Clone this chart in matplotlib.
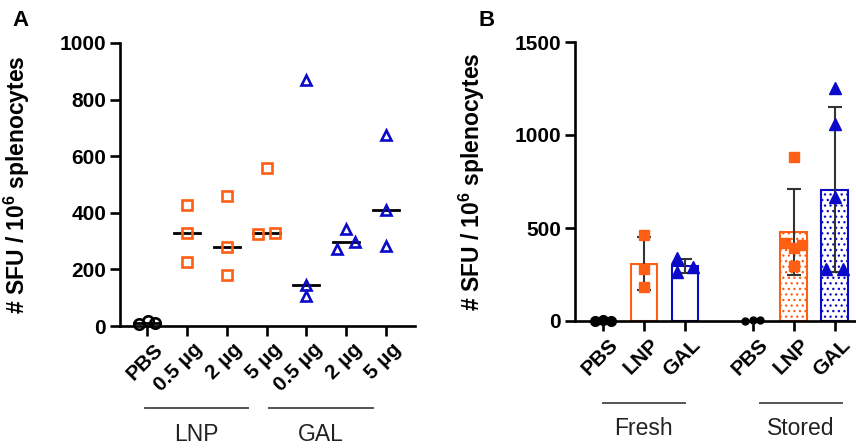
import numpy as np
import matplotlib
matplotlib.use("Agg")
import matplotlib.pyplot as plt
import matplotlib.transforms as mtransforms

# ---------------- data ----------------
cats_a = ["PBS", "0.5 µg", "2 µg", "5 µg", "0.5 µg", "2 µg", "5 µg"]
pbs_a = [8, 18, 10]
lnp05_a = [426, 329, 227]
lnp2_a = [461, 280, 179]
lnp5_a = [325, 329, 559]
gal05_a = [871, 144, 106]
gal2_a = [273, 341, 296]
gal5_a = [676, 409, 282]
groups_a = ["LNP", "GAL"]

cats_b = ["PBS", "LNP", "GAL", "PBS", "LNP", "GAL"]
fresh_pbs = [2, 3, 2]
fresh_lnp = [462, 279, 182]
fresh_gal = [339, 264, 290]
stored_pbs = [0, 6, 6]
stored_lnp = [421, 391, 409, 297, 883]
stored_gal = [1251, 1059, 665, 278, 278]
groups_b = ["Fresh", "Stored"]

# ---------------- style ----------------
ORANGE = "#FF5F12"
BLUE = "#0A0AC8"
plt.rcParams["font.family"] = ["Liberation Sans", "DejaVu Sans"]
plt.rcParams["mathtext.fontset"] = "custom"
plt.rcParams["mathtext.rm"] = "Liberation Sans:bold"
plt.rcParams["mathtext.bf"] = "Liberation Sans:bold"
plt.rcParams["hatch.linewidth"] = 0.9

fig = plt.figure(figsize=(8.56, 4.48), dpi=100)
axA = fig.add_axes([120 / 856, 1 - 326 / 448, (415 - 120) / 856, (326 - 43) / 448])
axB = fig.add_axes([575 / 856, 1 - 321 / 448, (856 - 575) / 856, (321 - 42) / 448])

ylab = "# SFU / 10$^{\\mathbf{6}}$ splenocytes"


def style_ax(ax):
    for s in ["top", "right"]:
        ax.spines[s].set_visible(False)
    for s in ["left", "bottom"]:
        ax.spines[s].set_linewidth(1.9)
    ax.tick_params(axis="both", length=7, width=1.9, direction="out", labelsize=15, pad=3)
    for lab in ax.get_yticklabels():
        lab.set_fontweight("bold")


# ---------------- panel A ----------------
data_a = [pbs_a, lnp05_a, lnp2_a, lnp5_a, gal05_a, gal2_a, gal5_a]
offs_a = [[-0.2, 0.02, 0.2], [0, 0, 0], [0, 0, 0], [-0.22, 0.22, 0],
          [0, 0, 0], [-0.22, 0, 0.22], [0, 0, 0]]
xa = np.arange(len(cats_a))
markers_a = ["o", "s", "s", "s", "^", "^", "^"]
colors_a = ["black", ORANGE, ORANGE, ORANGE, BLUE, BLUE, BLUE]
for i, vals in enumerate(data_a):
    med = np.median(vals)
    axA.plot([xa[i] - 0.33, xa[i] + 0.33], [med, med], color="black", lw=2.0, zorder=2)
    axA.plot(xa[i] + np.array(offs_a[i]), vals, linestyle="none", marker=markers_a[i],
             mfc="none", mec=colors_a[i], mew=1.9, ms=7.5, zorder=3, clip_on=False)

axA.set_xlim(-0.68, 6.73)
axA.set_ylim(0, 1000)
axA.set_yticks([0, 200, 400, 600, 800, 1000])
axA.set_xticks(xa)
axA.set_xticklabels(cats_a, rotation=45, ha="right", va="top", rotation_mode="anchor",
                    fontweight="bold")
style_ax(axA)
for lab in axA.get_xticklabels():
    lab.set_transform(lab.get_transform() + mtransforms.ScaledTranslation(6 / 100, 0, fig.dpi_scale_trans))
axA.set_ylabel(ylab, fontsize=16.5, fontweight="bold")
axA.yaxis.set_label_coords(-0.298, 0.5)

tA = axA.get_xaxis_transform()
for (x0, x1), name in zip([(-0.05, 2.54), (3.07, 5.68)], groups_a):
    axA.plot([x0, x1], [-0.29, -0.29], transform=tA, color="#555555", lw=1.4, clip_on=False)
    axA.text((x0 + x1) / 2, -0.385, name, transform=tA, ha="center", va="center",
             fontsize=16.5, color="#222222")

fig.text(12 / 856, 1 - 21 / 448, "A", fontsize=16, fontweight="bold", ha="left", va="center")

# ---------------- panel B ----------------
data_b = [fresh_pbs, fresh_lnp, fresh_gal, stored_pbs, stored_lnp, stored_gal]
xb = np.array([0, 1, 2, 3.65, 4.65, 5.65])
offs_b = [[-0.2, 0, 0.2], [0, 0, 0], [-0.2, -0.2, 0.2], [-0.18, 0, 0.18],
          [-0.2, 0, 0.2, 0, 0], [0, 0, 0, -0.2, 0.2]]
colors_b = ["black", ORANGE, BLUE, "black", ORANGE, BLUE]
markers_b = ["o", "s", "^", "o", "s", "^"]
ms_b = [7, 7.5, 8, 5, 7.5, 8]
hatches = [None, None, None, None, "...", "..."]
for i, vals in enumerate(data_b):
    mean = np.mean(vals)
    sd = np.std(vals, ddof=1)
    if colors_b[i] != "black":
        axB.bar(xb[i], mean, width=0.65, color="white", edgecolor=colors_b[i], lw=1.5,
                hatch=hatches[i], zorder=1)
        axB.errorbar(xb[i], mean, yerr=sd, color="#333333", lw=1.5, capsize=5, capthick=1.5,
                     zorder=2)
    axB.plot(xb[i] + np.array(offs_b[i]), vals, linestyle="none", marker=markers_b[i],
             color=colors_b[i], ms=ms_b[i], zorder=3, clip_on=False)

axB.set_xlim(-0.68, 6.17)
axB.set_ylim(0, 1500)
axB.set_yticks([0, 500, 1000, 1500])
axB.set_xticks(xb)
axB.set_xticklabels(cats_b, rotation=45, ha="right", va="top", rotation_mode="anchor",
                    fontweight="bold")
style_ax(axB)
for lab in axB.get_xticklabels():
    lab.set_transform(lab.get_transform() + mtransforms.ScaledTranslation(6 / 100, 0, fig.dpi_scale_trans))
axB.set_ylabel(ylab, fontsize=16.5, fontweight="bold")
axB.yaxis.set_label_coords(-0.313, 0.5)

tB = axB.get_xaxis_transform()
for (x0, x1), name in zip([(0, 2), (3.83, 5.83)], groups_b):
    axB.plot([x0, x1], [-0.294, -0.294], transform=tB, color="#555555", lw=1.4, clip_on=False)
    axB.text((x0 + x1) / 2, -0.384, name, transform=tB, ha="center", va="center",
             fontsize=16.5, color="#222222")

fig.text(478 / 856, 1 - 21 / 448, "B", fontsize=16, fontweight="bold", ha="left", va="center")

fig.savefig("out.png", dpi=100)
